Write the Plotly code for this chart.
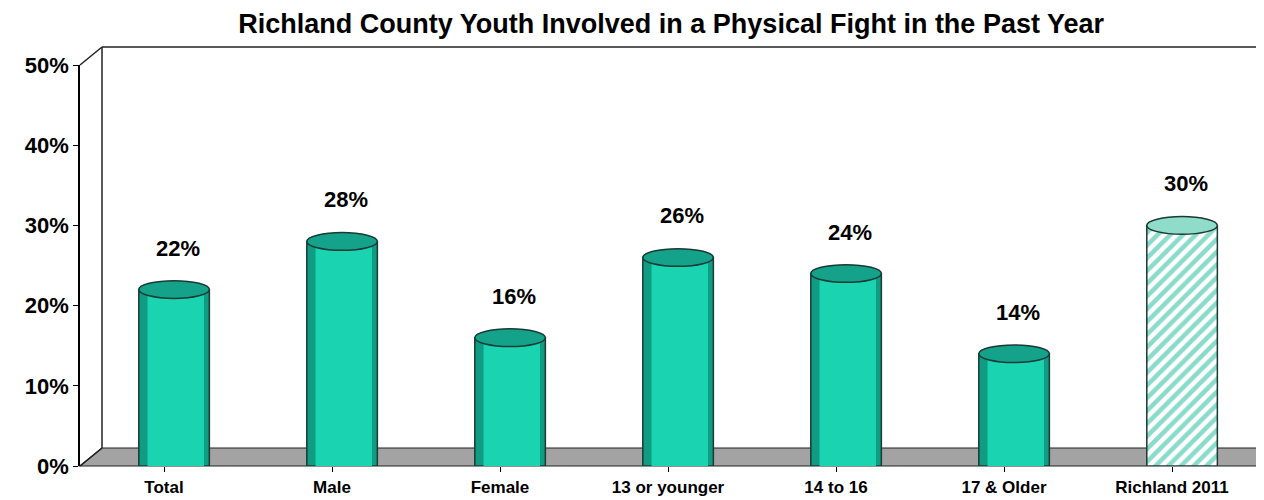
import plotly.graph_objects as go

# data
categories = ["Total", "Male", "Female", "13 or younger", "14 to 16", "17 & Older", "Richland 2011"]
values = [22, 28, 16, 26, 24, 14, 30]
tick_vals = [0, 10, 20, 30, 40, 50]
tick_text = ["0%", "10%", "20%", "30%", "40%", "50%"]

teal = "#1ad3b1"
teal_dark = "#0f9c82"
teal_top = "#14a28a"
edge = "#1b3a33"
W = 0.42
SHIFT = 0.06

# figure size (page has an 8px body margin) and plot-area margins
FIG_W, FIG_H = 1256, 492
L, R, T, B = 72, 8, 57, 34
FW, FH = FIG_W - L - R, FIG_H - T - B
DX, DY = 22, 18
Y0, Y50 = FIG_H - B, T


def px(x, y):
    return (x - L) / FW, (FIG_H - B - y) / FH


n = len(categories)
xs = list(range(n))
solid = [v if i < n - 1 else None for i, v in enumerate(values)]
hatched = [None] * (n - 1) + [values[-1]]

fig = go.Figure()

# cylinder body: darker outer layer, lighter core to fake shading
fig.add_trace(go.Bar(x=xs, y=solid, width=W, offset=-W / 2 + SHIFT,
                     marker=dict(color=teal_dark, line=dict(color=edge, width=1.5))))
fig.add_trace(go.Bar(x=xs, y=solid, width=W * 0.8, offset=-W * 0.4 + SHIFT + 0.01,
                     marker=dict(color=teal, line=dict(width=0))))
fig.add_trace(go.Bar(x=xs, y=hatched, width=W, offset=-W / 2 + SHIFT,
                     marker=dict(color="white", line=dict(color=edge, width=1.5),
                                 pattern=dict(shape="/", fgcolor="#13b896", bgcolor="white",
                                              size=9, solidity=0.5))))

shapes = []
# floor
p = [px(L, Y0), px(L + FW, Y0), px(L + FW + DX, Y0 - DY), px(L + DX, Y0 - DY)]
shapes.append(dict(type="path", xref="paper", yref="paper", layer="below",
                   path="M %f %f L %f %f L %f %f L %f %f Z" % (p[0] + p[1] + p[2] + p[3]),
                   fillcolor="#a3a3a3", line=dict(color="#222222", width=1.2)))
# back wall outline
for a, b in [((L, Y50), (L + DX, Y50 - DY)), ((L + DX, Y50 - DY), (L + DX, Y0 - DY)),
             ((L + DX, Y50 - DY), (FIG_W + 10, Y50 - DY)), ((L, Y0), (L + DX, Y0 - DY))]:
    x0, y0 = px(*a)
    x1, y1 = px(*b)
    shapes.append(dict(type="line", xref="paper", yref="paper", layer="below",
                       x0=x0, y0=y0, x1=x1, y1=y1, line=dict(color="#222222", width=1.5)))

# cylinder tops
for i, v in enumerate(values):
    top = "#8fdccb" if i == n - 1 else teal_top
    shapes.append(dict(type="circle", xref="x", yref="y",
                       x0=i - W / 2 + SHIFT, x1=i + W / 2 + SHIFT, y0=v - 1.1, y1=v + 1.1,
                       fillcolor=top, line=dict(color=edge, width=1.5)))

annotations = [dict(x=i + SHIFT, y=v, text=f"<b>{v}%</b>", showarrow=False, yanchor="bottom",
                    yshift=27, xshift=4, font=dict(size=22, color="black"))
               for i, v in enumerate(values)]

fig.update_layout(
    width=FIG_W, height=FIG_H,
    margin=dict(l=L, r=R, t=T, b=B),
    plot_bgcolor="white", paper_bgcolor="white",
    barmode="overlay", showlegend=False,
    font=dict(family="Arial, Liberation Sans, sans-serif", color="black"),
    title=dict(text="<b>Richland County Youth Involved in a Physical Fight in the Past Year</b>",
               x=0.528, xanchor="center", y=1 - 16 / FIG_H, yanchor="middle",
               font=dict(size=27, color="black")),
    shapes=shapes,
    annotations=annotations,
    xaxis=dict(tickmode="array", tickvals=xs, ticktext=[f"<b>{c}</b>" for c in categories],
               range=[-0.5, n - 0.5], showgrid=False, zeroline=False, automargin=False,
               showline=False, ticks="outside", tickson="boundaries", ticklen=5,
               tickcolor="black", ticklabelstandoff=1, tickfont=dict(size=17)),
    yaxis=dict(range=[0, 50], tickvals=tick_vals, ticktext=[f"<b>{t}</b>" for t in tick_text],
               showgrid=False, zeroline=False, showline=True, linecolor="black", linewidth=1.5,
               automargin=False,
               ticks="outside", ticklen=5, tickcolor="black", tickfont=dict(size=22)),
)

fig.write_html("out.html")
